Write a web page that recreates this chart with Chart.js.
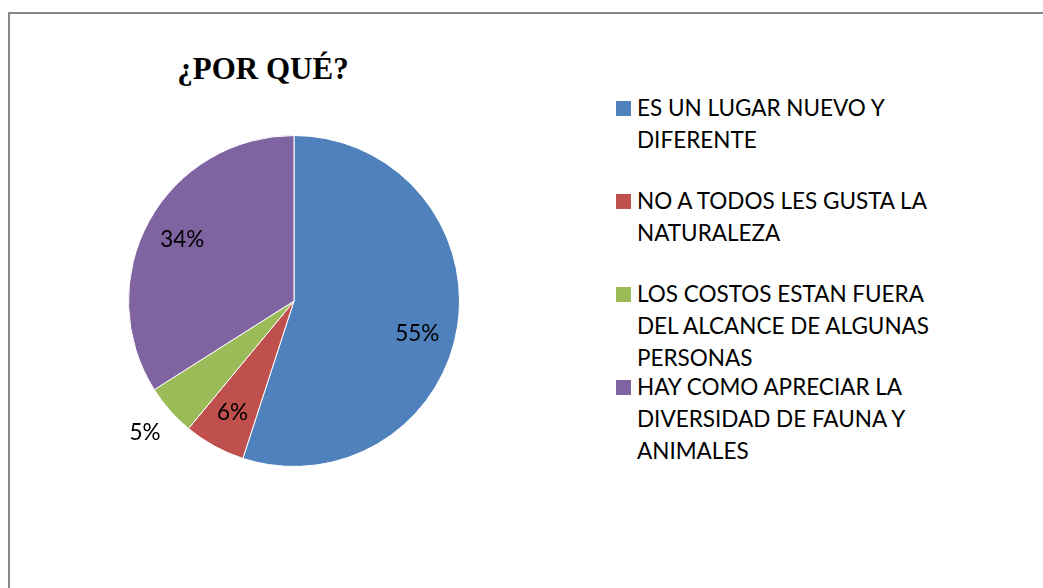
<!DOCTYPE html>
<html>
<head>
<meta charset="utf-8">
<script src="https://cdn.jsdelivr.net/npm/chart.js@4/dist/chart.umd.min.js"></script>
<style>
  body { margin: 0; background: #fff; width: 1043px; height: 588px; overflow: hidden; position: relative; }
  #frame { position: absolute; left: 8px; top: 12px; width: 1100px; height: 700px; border: 2px solid #878787; box-sizing: border-box; }
  #title { position: absolute; left: 128px; width: 270px; top: 51px; text-align: center;
    font-family: "Liberation Serif", serif; font-weight: bold; font-size: 31px; color: #000; }
  #chartBox { position: absolute; left: 94px; top: 101px; width: 400px; height: 400px; }
  #legend { position: absolute; left: 616px; top: 92px; font-family: Lato, "Open Sans", sans-serif; font-size: 22.5px; color: #000; }
  .legend-item { position: absolute; left: 0; white-space: nowrap; line-height: 32px; }
  .legend-box { position: absolute; left: 0; top: 9px; width: 15px; height: 15px; }
  .legend-text { position: absolute; left: 21px; top: 0; }
</style>
</head>
<body>
<div id="frame"></div>
<div id="title">¿POR QUÉ?</div>
<div id="chartBox"><canvas id="pieChart"></canvas></div>
<div id="legend"></div>
<script>
const categories = [
  ["ES UN LUGAR NUEVO Y", "DIFERENTE"],
  ["NO A TODOS LES GUSTA LA", "NATURALEZA"],
  ["LOS COSTOS ESTAN FUERA", "DEL ALCANCE DE ALGUNAS", "PERSONAS"],
  ["HAY COMO APRECIAR LA", "DIVERSIDAD DE FAUNA Y", "ANIMALES"]
];
const values = [55, 6, 5, 34];
const sliceColors = ["#4F81BD", "#C0504D", "#9BBB59", "#8064A2"];

// percent labels drawn on the slices (the small one sits outside)
const pctLabels = {
  id: "pctLabels",
  afterDatasetsDraw(chart) {
    const ctx = chart.ctx;
    const total = values.reduce((a, b) => a + b, 0);
    chart.getDatasetMeta(0).data.forEach((arc, i) => {
      const p = arc.getProps(["x", "y", "startAngle", "endAngle", "outerRadius"], true);
      let mid = (p.startAngle + p.endAngle) / 2;
      if (i === 0) mid += 0.1;
      const pct = values[i] / total * 100;
      const r = pct < 5.5 ? p.outerRadius * 1.2 : p.outerRadius * 0.77;
      ctx.save();
      ctx.font = "22.5px Lato, 'Open Sans', sans-serif";
      ctx.fillStyle = "#000";
      ctx.textAlign = "center";
      ctx.textBaseline = "middle";
      ctx.fillText(Math.round(pct) + "%", p.x + Math.cos(mid) * r, p.y + Math.sin(mid) * r);
      ctx.restore();
    });
  }
};

const ctx = document.getElementById("pieChart").getContext("2d");
const pieChart = new Chart(ctx, {
  type: "pie",
  data: {
    labels: categories.map(c => c.join(" ")),
    datasets: [{
      data: values,
      backgroundColor: sliceColors,
      borderColor: "#ffffff",
      borderWidth: 1
    }]
  },
  options: {
    responsive: true,
    maintainAspectRatio: false,
    animation: false,
    layout: { padding: 34 },
    plugins: {
      legend: { display: false },
      tooltip: { enabled: false }
    }
  },
  plugins: [pctLabels]
});

function renderLegend() {
  const legend = document.getElementById("legend");
  categories.forEach((lines, i) => {
    const item = document.createElement("div");
    item.className = "legend-item";
    item.style.top = (i * 93) + "px";
    item.innerHTML = `<span class="legend-box" style="background:${sliceColors[i]}"></span>` +
      `<span class="legend-text">${lines.join("<br>")}</span>`;
    legend.appendChild(item);
  });
}
renderLegend();
</script>
</body>
</html>
